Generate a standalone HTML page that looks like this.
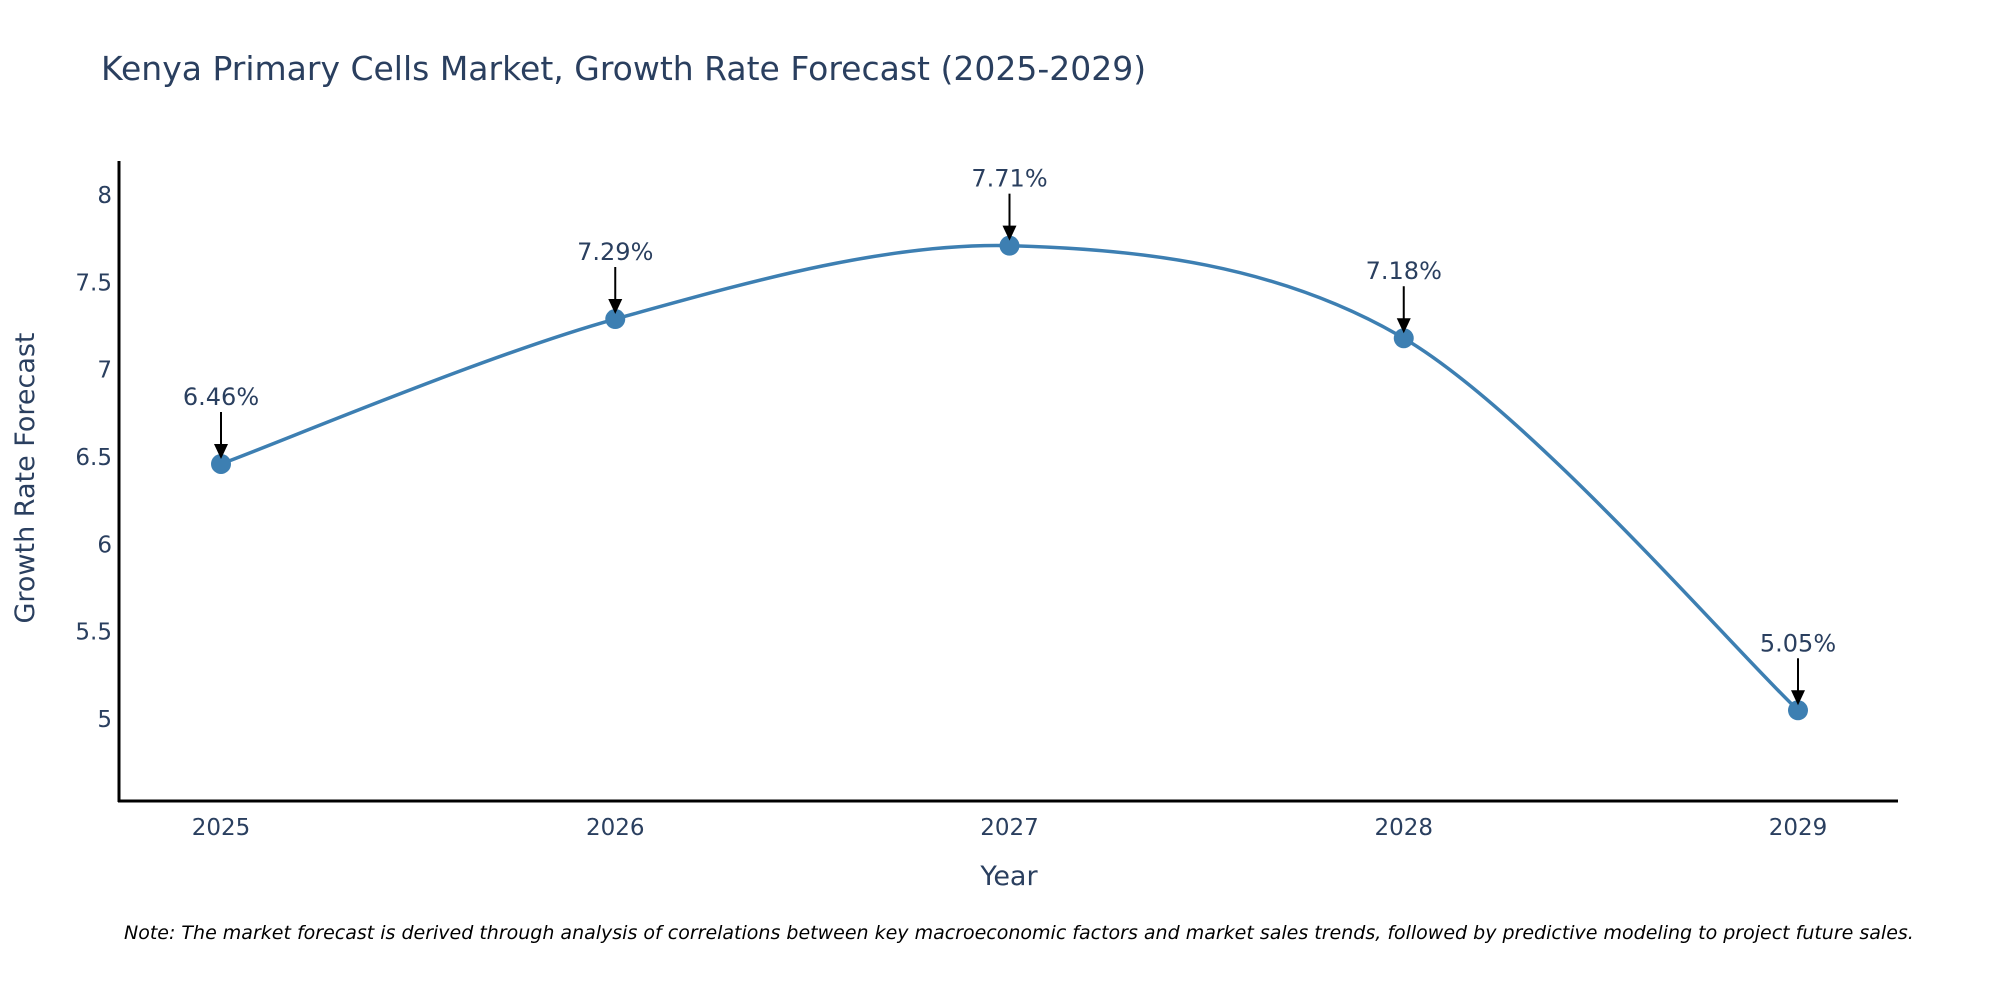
<!DOCTYPE html>
<html><head><meta charset="utf-8"><style>
html,body{margin:0;padding:0;background:#fff;}
svg{display:block;font-family:"DejaVu Sans","Liberation Sans",sans-serif;}
</style></head><body>
<svg id="chart" width="2000" height="1000" viewBox="0 0 2000 1000">
<text x="101" y="80" font-size="33" fill="#2a3f5f">Kenya Primary Cells Market, Growth Rate Forecast (2025-2029)</text>
<g id="yticks"></g>
<g id="xticks"></g>
<line x1="119" y1="161" x2="119" y2="802" stroke="#000" stroke-width="3"/>
<line x1="118" y1="801" x2="1898" y2="801" stroke="#000" stroke-width="3"/>
<text transform="translate(34,478) rotate(-90)" text-anchor="middle" font-size="27" fill="#2a3f5f">Growth Rate Forecast</text>
<text x="1009" y="885" text-anchor="middle" font-size="27" fill="#2a3f5f">Year</text>
<g id="series"></g>
<g id="annots"></g>
<text x="124" y="939" font-size="19" font-style="italic" fill="#000">Note: The market forecast is derived through analysis of correlations between key macroeconomic factors and market sales trends, followed by predictive modeling to project future sales.</text>
</svg>
<script>
const years = ["2025","2026","2027","2028","2029"];
const values = [6.46, 7.29, 7.71, 7.18, 5.05];
const valueLabels = ["6.46%","7.29%","7.71%","7.18%","5.05%"];
const yTicks = [5, 5.5, 6, 6.5, 7, 7.5, 8];
const yTickLabels = ["5","5.5","6","6.5","7","7.5","8"];

const NS = "http://www.w3.org/2000/svg";
function xScale(i){ return 221 + i * (1798 - 221) / (years.length - 1); }
function yScale(v){ return 719 - (v - 5) * (719 - 195) / 3; }
function mk(tag, attrs, parent){ const e=document.createElementNS(NS,tag); for(const k in attrs) e.setAttribute(k,attrs[k]); parent.appendChild(e); return e; }

const yt = document.getElementById('yticks');
yTicks.forEach((v,i)=>{
  const t = mk('text',{x:112,y:yScale(v)+8,'text-anchor':'end','font-size':23,fill:'#2a3f5f'},yt);
  
  
  t.textContent = yTickLabels[i];
});
const xt = document.getElementById('xticks');
years.forEach((y,i)=>{
  const t = mk('text',{x:xScale(i),y:835,'text-anchor':'middle','font-size':23,fill:'#2a3f5f'},xt);
  
  
  t.textContent = y;
});

const pts = values.map((v,i)=>[xScale(i), yScale(v)]);
let d = "M"+pts[0][0]+","+pts[0][1];
const tension = 0.16;
for(let i=0;i<pts.length-1;i++){
  const p0 = pts[Math.max(0,i-1)], p1 = pts[i], p2 = pts[i+1], p3 = pts[Math.min(pts.length-1,i+2)];
  const c1 = [p1[0]+(p2[0]-p0[0])*tension, p1[1]+(p2[1]-p0[1])*tension];
  const c2 = [p2[0]-(p3[0]-p1[0])*tension, p2[1]-(p3[1]-p1[1])*tension];
  d += " C"+c1[0]+","+c1[1]+" "+c2[0]+","+c2[1]+" "+p2[0]+","+p2[1];
}
const s = document.getElementById('series');
const line = mk('path',{d:d,fill:'none',stroke:'#3d7fb2','stroke-width':3.5},s);


pts.forEach((p,i)=>{
  const c = mk('circle',{cx:p[0],cy:p[1],r:10,fill:'#3d7fb2'},s);
  
  
});

const a = document.getElementById('annots');
pts.forEach((p,i)=>{
  const ln = mk('line',{x1:p[0],y1:p[1]-52,x2:p[0],y2:p[1]-18,stroke:'#000','stroke-width':2},a);
  
  
  const hd = mk('path',{d:`M${p[0]-7},${p[1]-20} L${p[0]+7},${p[1]-20} L${p[0]},${p[1]-5} Z`,fill:'#000'},a);
  
  
  const t = mk('text',{x:p[0],y:p[1]-59,'text-anchor':'middle','font-size':24,fill:'#2a3f5f'},a);
  
  
  t.textContent = valueLabels[i];
});
</script>
</body></html>
